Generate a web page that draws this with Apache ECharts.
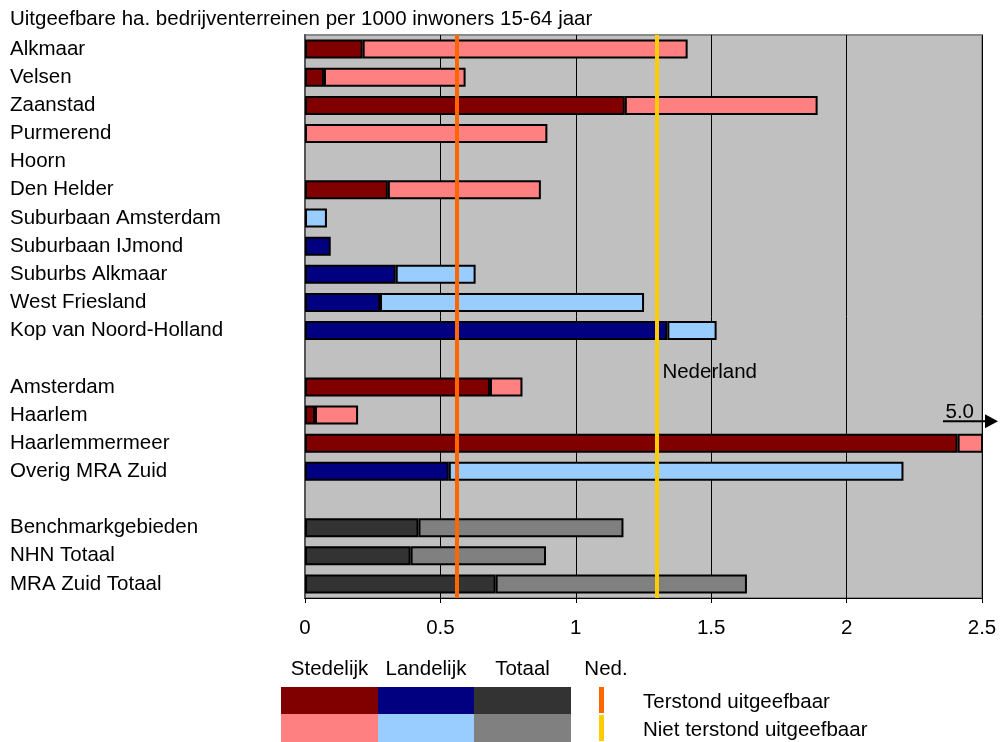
<!DOCTYPE html>
<html>
<head>
<meta charset="utf-8">
<script src="https://cdn.jsdelivr.net/npm/echarts@6/dist/echarts.min.js"></script>
<style>html,body{margin:0;padding:0;background:#fff}#c{width:1000px;height:742px}</style>
</head>
<body>
<div id="c"></div>
<script>
var titleText = 'Uitgeefbare ha. bedrijventerreinen per 1000 inwoners 15-64 jaar';
var categories = ['Alkmaar','Velsen','Zaanstad','Purmerend','Hoorn','Den Helder','Suburbaan Amsterdam','Suburbaan IJmond','Suburbs Alkmaar','West Friesland','Kop van Noord-Holland',' ','Amsterdam','Haarlem','Haarlemmermeer','Overig MRA Zuid','  ','Benchmarkgebieden','NHN Totaal','MRA Zuid Totaal'];
var groups = ['S','S','S','S','S','S','L','L','L','L','L',null,'S','S','S','L',null,'T','T','T'];
var terstond = [0.213,0.07,1.181,0,0,0.306,0,0.095,0.335,0.277,1.338,null,0.683,0.037,2.41,0.531,null,0.419,0.39,0.704];
var totaal = [1.413,0.593,1.893,0.895,0,0.871,0.081,0.095,0.63,1.252,1.52,null,0.803,0.196,5.0,2.21,null,1.176,0.89,1.632];
var nedTerstond = 0.558;
var nedTotaal = 1.305;
var xTicks = [0,0.5,1,1.5,2,2.5];
var legendCols = ['Stedelijk','Landelijk','Totaal'];
var legendNed = 'Ned.';
var legendRows = ['Terstond uitgeefbaar','Niet terstond uitgeefbaar'];
var nedLabel = 'Nederland';
var overflowLabel = '5.0';

var darkCol = {S:'#800000', L:'#000080', T:'#333333'};
var lightCol = {S:'#FF8080', L:'#99CCFF', T:'#808080'};
var FONT = 'Liberation Sans, Arial, sans-serif';
var FS = 20.5;

var d1 = [], d2 = [];
for (var i = 0; i < categories.length; i++) {
  var g = groups[i];
  if (g === null) { d1.push(null); d2.push(null); continue; }
  var rest = +(totaal[i] - terstond[i]).toFixed(3);
  d1.push(terstond[i] > 0 ? {value: terstond[i], itemStyle: {color: darkCol[g]}} : null);
  d2.push(rest > 0 ? {value: rest, itemStyle: {color: lightCol[g]}} : null);
}

var chart = echarts.init(document.getElementById('c'), null, {renderer: 'canvas'});
var option = {
  animation: false,
  textStyle: {fontFamily: FONT},
  grid: {left: 305, right: 18, top: 35, bottom: 144, show: true, backgroundColor: '#C0C0C0', borderColor: '#8a8a8a', borderWidth: 2},
  xAxis: {
    type: 'value', min: xTicks[0], max: xTicks[xTicks.length-1], interval: 0.5,
    axisLine: {show: true, lineStyle: {color: '#000', width: 1}},
    axisTick: {show: true, length: 5, lineStyle: {color: '#000'}},
    axisLabel: {fontSize: FS, color: '#000', margin: 20, fontFamily: FONT},
    splitLine: {show: true, lineStyle: {color: '#000', width: 1}}
  },
  yAxis: {
    type: 'category', inverse: true, data: categories,
    axisLine: {show: true, lineStyle: {color: '#555', width: 2}},
    axisTick: {show: false},
    axisLabel: {align: 'left', margin: 295, fontSize: FS, color: '#000', fontFamily: FONT, interval: 0, padding: [2, 0, 0, 0]},
    splitLine: {show: false}
  },
  series: [
    {
      type: 'bar', name: 'Terstond', stack: 'a', barWidth: 19, data: d1,
      itemStyle: {borderColor: '#000', borderWidth: 2},
      markLine: {
        silent: true, symbol: ['none','none'], label: {show: false},
        data: [
          {xAxis: nedTerstond, lineStyle: {color: '#FF6600', width: 4, type: 'solid'}},
          {xAxis: nedTotaal, lineStyle: {color: '#FFCC00', width: 4, type: 'solid'}}
        ]
      }
    },
    {
      type: 'bar', name: 'Niet terstond', stack: 'a', barWidth: 19, data: d2,
      itemStyle: {borderColor: '#000', borderWidth: 2}
    }
  ]
};
chart.setOption(option);

var xRight = chart.convertToPixel({xAxisIndex: 0}, xTicks[xTicks.length-1]);
var yHm = chart.convertToPixel({yAxisIndex: 0}, 'Haarlemmermeer');
var xNed = chart.convertToPixel({xAxisIndex: 0}, nedTotaal);
var yBlank = chart.convertToPixel({yAxisIndex: 0}, ' ');

var gfx = [
  {type: 'text', left: 10, top: 9, style: {text: titleText, font: FS + 'px ' + FONT, fill: '#000'}},
  {type: 'text', x: xNed + 4, y: yBlank + 14, style: {text: nedLabel, font: FS + 'px ' + FONT, fill: '#000', verticalAlign: 'middle'}},
  {type: 'text', x: xRight - 8, y: yHm - 31, style: {text: overflowLabel, font: FS + 'px ' + FONT, fill: '#000', align: 'right', verticalAlign: 'middle'}, z: 20},
  {type: 'line', shape: {x1: xRight - 39, y1: yHm - 22, x2: xRight + 4, y2: yHm - 22}, style: {stroke: '#000', lineWidth: 2}, z: 20},
  {type: 'polygon', shape: {points: [[xRight + 3, yHm - 29], [xRight + 16, yHm - 22], [xRight + 3, yHm - 15]]}, style: {fill: '#000'}, z: 20}
];
var lx = [281, 378, 474, 571];
for (var k = 0; k < 3; k++) {
  var key = ['S','L','T'][k];
  gfx.push({type: 'rect', shape: {x: lx[k], y: 687, width: lx[k+1]-lx[k], height: 27}, style: {fill: darkCol[key]}});
  gfx.push({type: 'rect', shape: {x: lx[k], y: 714, width: lx[k+1]-lx[k], height: 28}, style: {fill: lightCol[key]}});
  gfx.push({type: 'text', x: (lx[k]+lx[k+1])/2, y: 669, style: {text: legendCols[k], font: FS + 'px ' + FONT, fill: '#000', align: 'center', verticalAlign: 'middle'}});
}
gfx.push({type: 'text', x: 606, y: 669, style: {text: legendNed, font: FS + 'px ' + FONT, fill: '#000', align: 'center', verticalAlign: 'middle'}});
gfx.push({type: 'rect', shape: {x: 599, y: 687, width: 5, height: 26}, style: {fill: '#FF6600'}});
gfx.push({type: 'rect', shape: {x: 599, y: 715, width: 5, height: 26}, style: {fill: '#FFCC00'}});
gfx.push({type: 'text', x: 643, y: 702, style: {text: legendRows[0], font: FS + 'px ' + FONT, fill: '#000', verticalAlign: 'middle'}});
gfx.push({type: 'text', x: 643, y: 730, style: {text: legendRows[1], font: FS + 'px ' + FONT, fill: '#000', verticalAlign: 'middle'}});
chart.setOption({graphic: gfx});
</script>
</body>
</html>
